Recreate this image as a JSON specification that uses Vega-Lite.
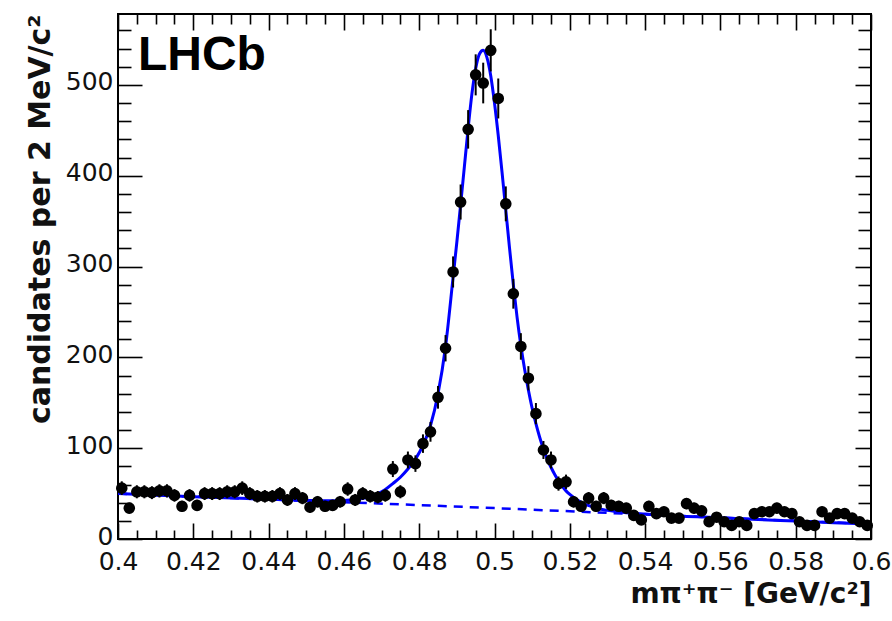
{
  "$schema": "https://vega.github.io/schema/vega-lite/v6.json",
  "width": 753,
  "height": 525,
  "autosize": "none",
  "padding": {"left": 118, "top": 14, "right": 21, "bottom": 82},
  "background": "white",
  "config": {
    "view": {"stroke": "black", "strokeWidth": 2},
    "axis": {"labelColor": "#111111", "titleColor": "#111111", "tickColor": "black", "tickWidth": 1.6, "grid": false, "labelFont": "DejaVu Sans", "titleFont": "DejaVu Sans"}
  },
  "datasets": {
    "pts": [
      {"x":0.401,"n":56,"e":7.5},{"x":0.403,"n":34,"e":5.8},{"x":0.405,"n":52,"e":7.2},{"x":0.407,"n":52,"e":7.2},{"x":0.409,"n":51,"e":7.1},
      {"x":0.411,"n":53,"e":7.3},{"x":0.413,"n":53,"e":7.3},{"x":0.415,"n":48,"e":6.9},{"x":0.417,"n":36,"e":6.0},{"x":0.419,"n":48,"e":6.9},
      {"x":0.421,"n":37,"e":6.1},{"x":0.423,"n":50,"e":7.1},{"x":0.425,"n":50,"e":7.1},{"x":0.427,"n":50,"e":7.1},{"x":0.429,"n":52,"e":7.2},
      {"x":0.431,"n":52,"e":7.2},{"x":0.433,"n":56,"e":7.5},{"x":0.435,"n":50,"e":7.1},{"x":0.437,"n":47,"e":6.9},{"x":0.439,"n":47,"e":6.9},
      {"x":0.441,"n":47,"e":6.9},{"x":0.443,"n":50,"e":7.1},{"x":0.445,"n":43,"e":6.6},{"x":0.447,"n":50,"e":7.1},{"x":0.449,"n":45,"e":6.7},
      {"x":0.451,"n":35,"e":5.9},{"x":0.453,"n":41,"e":6.4},{"x":0.455,"n":36,"e":6.0},{"x":0.457,"n":37,"e":6.1},{"x":0.459,"n":41,"e":6.4},
      {"x":0.461,"n":55,"e":7.4},{"x":0.463,"n":43,"e":6.6},{"x":0.465,"n":50,"e":7.1},{"x":0.467,"n":47,"e":6.9},{"x":0.469,"n":46,"e":6.8},
      {"x":0.471,"n":48,"e":6.9},{"x":0.473,"n":77,"e":8.8},{"x":0.475,"n":52,"e":7.2},{"x":0.477,"n":87,"e":9.3},{"x":0.479,"n":83,"e":9.1},
      {"x":0.481,"n":105,"e":10.2},{"x":0.483,"n":118,"e":10.9},{"x":0.485,"n":156,"e":12.5},{"x":0.487,"n":210,"e":14.5},{"x":0.489,"n":294,"e":17.1},
      {"x":0.491,"n":371,"e":19.3},{"x":0.493,"n":451,"e":21.2},{"x":0.495,"n":511,"e":22.6},{"x":0.497,"n":502,"e":22.4},{"x":0.499,"n":538,"e":23.2},
      {"x":0.501,"n":485,"e":22.0},{"x":0.503,"n":369,"e":19.2},{"x":0.505,"n":270,"e":16.4},{"x":0.507,"n":212,"e":14.6},{"x":0.509,"n":177,"e":13.3},
      {"x":0.511,"n":138,"e":11.7},{"x":0.513,"n":98,"e":9.9},{"x":0.515,"n":87,"e":9.3},{"x":0.517,"n":61,"e":7.8},{"x":0.519,"n":63,"e":7.9},
      {"x":0.521,"n":41,"e":6.4},{"x":0.523,"n":36,"e":6.0},{"x":0.525,"n":45,"e":6.7},{"x":0.527,"n":36,"e":6.0},{"x":0.529,"n":45,"e":6.7},
      {"x":0.531,"n":37,"e":6.1},{"x":0.533,"n":36,"e":6.0},{"x":0.535,"n":34,"e":5.8},{"x":0.537,"n":26,"e":5.1},{"x":0.539,"n":21,"e":4.6},
      {"x":0.541,"n":36,"e":6.0},{"x":0.543,"n":28,"e":5.3},{"x":0.545,"n":30,"e":5.5},{"x":0.547,"n":23,"e":4.8},{"x":0.549,"n":23,"e":4.8},
      {"x":0.551,"n":39,"e":6.2},{"x":0.553,"n":34,"e":5.8},{"x":0.555,"n":31,"e":5.6},{"x":0.557,"n":19,"e":4.4},{"x":0.559,"n":24,"e":4.9},
      {"x":0.561,"n":19,"e":4.4},{"x":0.563,"n":15,"e":3.9},{"x":0.565,"n":19,"e":4.4},{"x":0.567,"n":15,"e":3.9},{"x":0.569,"n":28,"e":5.3},
      {"x":0.571,"n":30,"e":5.5},{"x":0.573,"n":30,"e":5.5},{"x":0.575,"n":34,"e":5.8},{"x":0.577,"n":30,"e":5.5},{"x":0.579,"n":28,"e":5.3},
      {"x":0.581,"n":19,"e":4.4},{"x":0.583,"n":15,"e":3.9},{"x":0.585,"n":15,"e":3.9},{"x":0.587,"n":30,"e":5.5},{"x":0.589,"n":23,"e":4.8},
      {"x":0.591,"n":28,"e":5.3},{"x":0.593,"n":28,"e":5.3},{"x":0.595,"n":23,"e":4.8},{"x":0.597,"n":19,"e":4.4},{"x":0.599,"n":15,"e":3.9}
    ],
    "fit": [
      {"x":0.400,"y":50},{"x":0.420,"y":46.6},{"x":0.440,"y":43.8},{"x":0.450,"y":42.5},{"x":0.455,"y":42},{"x":0.460,"y":42.5},
      {"x":0.463,"y":43.5},{"x":0.466,"y":45.5},{"x":0.469,"y":50},{"x":0.471,"y":54.5},{"x":0.473,"y":61},{"x":0.475,"y":68},
      {"x":0.477,"y":77},{"x":0.479,"y":88},{"x":0.481,"y":103},{"x":0.483,"y":125},{"x":0.485,"y":160},{"x":0.487,"y":212},
      {"x":0.489,"y":288},{"x":0.490,"y":327},{"x":0.491,"y":368},{"x":0.492,"y":410},{"x":0.493,"y":452},{"x":0.494,"y":490},
      {"x":0.495,"y":518},{"x":0.496,"y":534},{"x":0.497,"y":538},{"x":0.498,"y":530},{"x":0.499,"y":510},{"x":0.500,"y":480},
      {"x":0.501,"y":444},{"x":0.502,"y":404},{"x":0.503,"y":362},{"x":0.504,"y":320},{"x":0.505,"y":280},{"x":0.506,"y":244},
      {"x":0.507,"y":213},{"x":0.508,"y":187},{"x":0.509,"y":164},{"x":0.510,"y":144},{"x":0.511,"y":127},{"x":0.512,"y":112},
      {"x":0.513,"y":99},{"x":0.514,"y":88},{"x":0.515,"y":79},{"x":0.516,"y":71},{"x":0.517,"y":64},{"x":0.518,"y":58},
      {"x":0.519,"y":53},{"x":0.520,"y":49},{"x":0.522,"y":43},{"x":0.524,"y":38.5},{"x":0.526,"y":35.5},{"x":0.528,"y":33},
      {"x":0.530,"y":31.5},{"x":0.535,"y":29},{"x":0.540,"y":27.5},{"x":0.550,"y":25},{"x":0.560,"y":23.5},{"x":0.570,"y":21.5},
      {"x":0.580,"y":19.8},{"x":0.590,"y":18},{"x":0.600,"y":16.5}
    ],
    "bg": [
      {"x":0.40,"y":50},{"x":0.42,"y":46.6},{"x":0.44,"y":43.5},{"x":0.46,"y":40.5},{"x":0.48,"y":37.3},{"x":0.50,"y":34},
      {"x":0.52,"y":30.5},{"x":0.54,"y":27},{"x":0.56,"y":23.5},{"x":0.58,"y":20},{"x":0.60,"y":16.5}
    ],
    "lbl": [{"t": "LHCb"}]
  },
  "resolve": {"scale": {"x": "shared", "y": "shared"}, "axis": {"x": "independent", "y": "independent"}},
  "layer": [
    {
      "data": {"name": "bg"},
      "mark": {"type": "line", "color": "#0000ff", "strokeWidth": 2.5, "strokeDash": [9, 7], "clip": true},
      "encoding": {
        "x": {"field": "x", "type": "quantitative", "scale": {"domain": [0.4, 0.6], "nice": false, "zero": false},
          "axis": {"orient": "bottom", "values": [0.4, 0.42, 0.44, 0.46, 0.48, 0.5, 0.52, 0.54, 0.56, 0.58, 0.6], "format": "~g", "ticks": false, "domain": false,
            "labelFontSize": 25, "labelPadding": 10, "labelFlush": false, "labelOverlap": false, "labelBound": false,
            "title": "mπ⁺π⁻ [GeV/c²]", "titleAnchor": "end", "titleFontSize": 28, "titleFontWeight": "bold", "titlePadding": 6}},
        "y": {"field": "y", "type": "quantitative", "scale": {"domain": [0, 578], "nice": false},
          "axis": {"orient": "left", "values": [0, 100, 200, 300, 400, 500], "ticks": false, "domain": false,
            "labelFontSize": 25, "labelPadding": 5, "labelOffset": -3, "labelOverlap": false, "labelFlush": false,
            "title": "candidates per 2 MeV/c²", "titleAnchor": "end", "titleFontSize": 30, "titleFontWeight": "bold", "titlePadding": 10}}
      }
    },
    {
      "data": {"name": "fit"},
      "mark": {"type": "line", "color": "#0000ff", "strokeWidth": 3, "interpolate": "monotone", "clip": true},
      "encoding": {
        "x": {"field": "x", "type": "quantitative",
          "axis": {"orient": "top", "offset": -525, "labels": false, "domain": false, "title": null,
            "values": [0.4,0.405,0.41,0.415,0.42,0.425,0.43,0.435,0.44,0.445,0.45,0.455,0.46,0.465,0.47,0.475,0.48,0.485,0.49,0.495,0.5,0.505,0.51,0.515,0.52,0.525,0.53,0.535,0.54,0.545,0.55,0.555,0.56,0.565,0.57,0.575,0.58,0.585,0.59,0.595,0.6],
            "tickSize": {"condition": {"test": "round(datum.value*1000) % 20 === 0", "value": 16}, "value": 9}}},
        "y": {"field": "y", "type": "quantitative",
          "axis": {"orient": "right", "offset": -753, "labels": false, "domain": false, "title": null,
            "values": [0,20,40,60,80,100,120,140,160,180,200,220,240,260,280,300,320,340,360,380,400,420,440,460,480,500,520,540,560],
            "tickSize": {"condition": {"test": "round(datum.value) % 100 === 0", "value": 24}, "value": 13}}}
      }
    },
    {
      "data": {"name": "pts"},
      "mark": {"type": "errorbar", "color": "black", "thickness": 2},
      "encoding": {
        "x": {"field": "x", "type": "quantitative", "axis": null},
        "y": {"field": "n", "type": "quantitative", "axis": null},
        "yError": {"field": "e"}
      }
    },
    {
      "data": {"name": "pts"},
      "mark": {"type": "circle", "color": "black", "opacity": 1, "size": 135},
      "encoding": {
        "x": {"field": "x", "type": "quantitative",
          "axis": {"orient": "bottom", "offset": -525, "labels": false, "domain": false, "title": null,
            "values": [0.4,0.405,0.41,0.415,0.42,0.425,0.43,0.435,0.44,0.445,0.45,0.455,0.46,0.465,0.47,0.475,0.48,0.485,0.49,0.495,0.5,0.505,0.51,0.515,0.52,0.525,0.53,0.535,0.54,0.545,0.55,0.555,0.56,0.565,0.57,0.575,0.58,0.585,0.59,0.595,0.6],
            "tickSize": {"condition": {"test": "round(datum.value*1000) % 20 === 0", "value": 16}, "value": 10}}},
        "y": {"field": "n", "type": "quantitative",
          "axis": {"orient": "left", "offset": -753, "labels": false, "domain": false, "title": null,
            "values": [0,20,40,60,80,100,120,140,160,180,200,220,240,260,280,300,320,340,360,380,400,420,440,460,480,500,520,540,560],
            "tickSize": {"condition": {"test": "round(datum.value) % 100 === 0", "value": 16}, "value": 13}}}
      }
    },
    {
      "data": {"name": "lbl"},
      "mark": {"type": "text", "font": "Liberation Sans", "fontWeight": "bold", "fontSize": 48, "align": "left", "baseline": "alphabetic", "color": "black"},
      "encoding": {
        "text": {"field": "t"},
        "x": {"datum": 0.4053, "type": "quantitative", "axis": null},
        "y": {"datum": 516, "type": "quantitative", "axis": null}
      }
    }
  ]
}
